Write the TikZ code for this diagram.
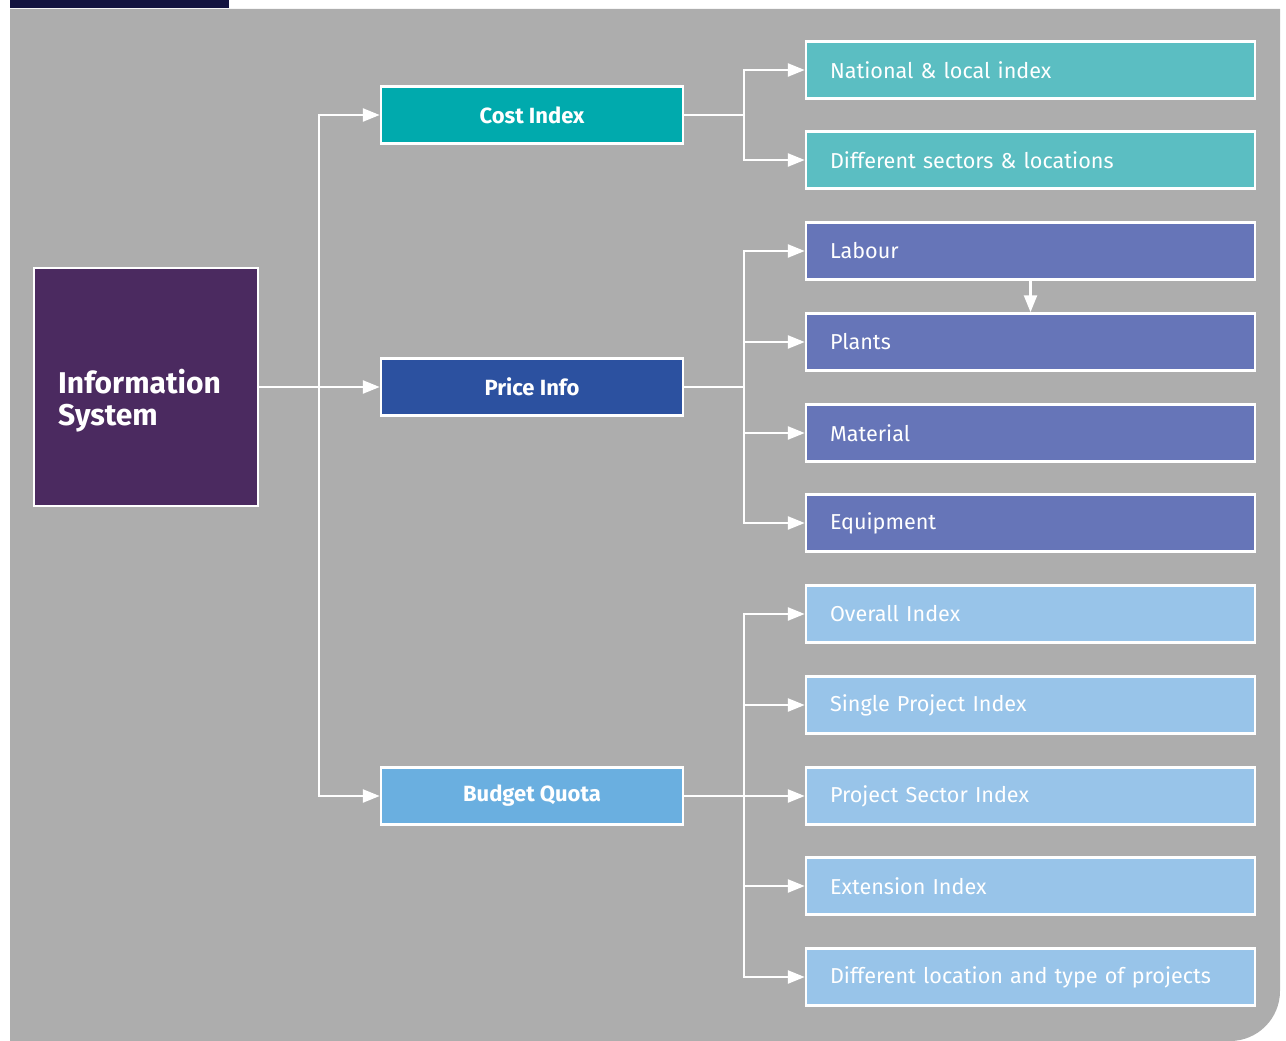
\documentclass[tikz,border=0pt]{standalone}
\usepackage{fontspec}
\setmainfont{Fira Sans}
\usetikzlibrary{arrows.meta,calc}
\definecolor{bggray}{HTML}{ADADAD}
\definecolor{navy}{HTML}{141440}
\definecolor{infoc}{HTML}{4B2A60}
\definecolor{costc}{HTML}{00AAAD}
\definecolor{pricec}{HTML}{2C51A0}
\definecolor{budgetc}{HTML}{6AAFE0}
\definecolor{tealc}{HTML}{5BBEC2}
\definecolor{purpc}{HTML}{6675B8}
\definecolor{lightc}{HTML}{98C4E9}
\tikzset{
  box/.style={draw=white, line width=2.5pt, text=white, minimum height=57pt, inner sep=0pt},
  midbox/.style={box, minimum width=302pt, font=\bfseries\fontsize{22}{25}\selectfont},
  leafbox/.style={box, minimum width=449pt, text width=401pt, align=left, font=\fontsize{21.6}{24}\selectfont},
  ln/.style={draw=white, line width=2.5pt},
  arr/.style={ln, -{Triangle[length=17pt,width=13pt]}},
}
\begin{document}
\begin{tikzpicture}[x=1pt,y=-1pt]
\useasboundingbox (0,0) rectangle (1286,1041);
\fill[bggray] (10,9) -- (1280,9) [rounded corners=50pt] -- (1280,1041) [sharp corners] -- (10,1041) -- cycle;
\fill[navy] (10,0) rectangle (229,8);

\node[box, fill=infoc, minimum width=224pt, minimum height=238pt] (info) at (146,387) {};
\node[anchor=west, text=white, align=left, inner sep=0pt,
  font=\bfseries\fontsize{30}{32}\selectfont] (infot) at (58,401) {Information\\System};

\node[midbox, fill=costc] (cost) at (532,115) {Cost Index};
\node[midbox, fill=pricec] (price) at (532,387) {Price Info};
\node[midbox, fill=budgetc] (budget) at (532,796) {Budget Quota};

\node[leafbox, fill=tealc] (nat) at (1030.5,70) {National \& local index};
\node[leafbox, fill=tealc] (sect) at (1030.5,160) {Different sectors \& locations};
\node[leafbox, fill=purpc] (lab) at (1030.5,251) {Labour};
\node[leafbox, fill=purpc] (pla) at (1030.5,342) {Plants};
\node[leafbox, fill=purpc] (mat) at (1030.5,433) {Material};
\node[leafbox, fill=purpc] (equ) at (1030.5,523) {Equipment};
\node[leafbox, fill=lightc] (ove) at (1030.5,614) {Overall Index};
\node[leafbox, fill=lightc] (sin) at (1030.5,705) {Single Project Index};
\node[leafbox, fill=lightc] (pro) at (1030.5,796) {Project Sector Index};
\node[leafbox, fill=lightc] (ext) at (1030.5,886) {Extension Index};
\node[leafbox, fill=lightc] (dif) at (1030.5,977) {Different location and type of projects};

% main trunk
\coordinate (ja) at (319,387);
\draw[ln] (ja |- cost) -- (ja |- budget);
\draw[arr] (info.east) -- (price.west);
\draw[arr] (ja) |- (cost.west);
\draw[arr] (ja) |- (budget.west);

% cost branch
\coordinate (jb) at (744,115);
\draw[ln] (cost.east) -- (jb);
\draw[ln] (jb |- nat) -- (jb |- sect);
\draw[arr] (jb) |- (nat.west);
\draw[arr] (jb) |- (sect.west);

% price branch
\coordinate (jc) at (744,387);
\draw[ln] (price.east) -- (jc);
\draw[ln] (jc |- lab) -- (jc |- equ);
\foreach \n in {lab,pla,mat,equ} \draw[arr] (jc) |- (\n.west);

% budget branch
\coordinate (jd) at (744,796);
\draw[ln] (jd |- ove) -- (jd |- dif);
\draw[arr] (budget.east) -- (pro.west);
\foreach \n in {ove,sin,ext,dif} \draw[arr] (jd) |- (\n.west);

\draw[arr] (lab.south) -- (pla.north);
\end{tikzpicture}
\end{document}
